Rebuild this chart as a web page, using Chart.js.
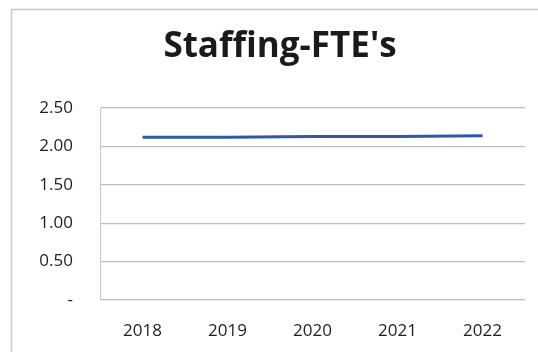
<!DOCTYPE html>
<html>
<head>
<meta charset="utf-8">
<script src="https://cdn.jsdelivr.net/npm/chart.js@4/dist/chart.umd.min.js"></script>
<style>
  html, body { margin: 0; padding: 0; background: #fff; }
  #wrap { width: 538px; height: 352px; position: relative; }
</style>
</head>
<body>
<div id="wrap"><canvas id="c" width="538" height="352"></canvas></div>
<script>
// Staffing full-time equivalents per year
const years = ['2018', '2019', '2020', '2021', '2022'];
const fte = [2.12, 2.12, 2.13, 2.13, 2.14];
const yTicks = [0, 0.5, 1.0, 1.5, 2.0, 2.5];

const FONT = "'Open Sans', 'Liberation Sans', sans-serif";

// Thin frame around the chart (top and left edges show)
const frame = {
  id: 'frame',
  beforeDraw(chart) {
    const ctx = chart.ctx;
    ctx.save();
    ctx.strokeStyle = '#c8c8c8';
    ctx.lineWidth = 1.5;
    ctx.beginPath();
    ctx.moveTo(11.5, 352);
    ctx.lineTo(11.5, 9.5);
    ctx.lineTo(538, 9.5);
    ctx.stroke();
    ctx.restore();
  }
};

// Chart heading
const heading = {
  id: 'heading',
  afterDraw(chart) {
    const ctx = chart.ctx;
    ctx.save();
    ctx.fillStyle = '#1a1a1a';
    ctx.font = "bold 35px " + FONT;
    ctx.textAlign = 'center';
    ctx.textBaseline = 'middle';
    ctx.fillText("Staffing-FTE's", 280, 47);
    ctx.restore();
  }
};

new Chart(document.getElementById('c'), {
  type: 'line',
  data: {
    labels: years,
    datasets: [{
      data: fte,
      borderColor: '#2f58a8',
      borderWidth: 3,
      pointRadius: 0,
      tension: 0,
      fill: false
    }]
  },
  options: {
    responsive: false,
    animation: false,
    layout: { padding: { top: 108, right: 13, bottom: 0, left: 0 } },
    plugins: { legend: { display: false }, tooltip: { enabled: false } },
    scales: {
      x: {
        offset: true,
        grid: { display: false, drawTicks: false },
        border: { display: false },
        ticks: { color: '#1e1e1e', font: { family: FONT, size: 17 }, padding: 21, maxRotation: 0 },
        afterFit(scale) { scale.height = 52; }
      },
      y: {
        min: 0,
        max: 2.5,
        afterBuildTicks(scale) { scale.ticks = yTicks.map(v => ({ value: v })); },
        grid: { color: '#bdbdbd', lineWidth: 1.2, drawTicks: false },
        border: { display: true, color: '#c8c8c8', width: 1 },
        ticks: {
          color: '#1e1e1e',
          font: { family: FONT, size: 17 },
          padding: 27,
          callback: v => v === 0 ? '-' : v.toFixed(2)
        },
        afterFit(scale) { scale.width = 100; }
      }
    }
  },
  plugins: [frame, heading]
});
</script>
</body>
</html>
